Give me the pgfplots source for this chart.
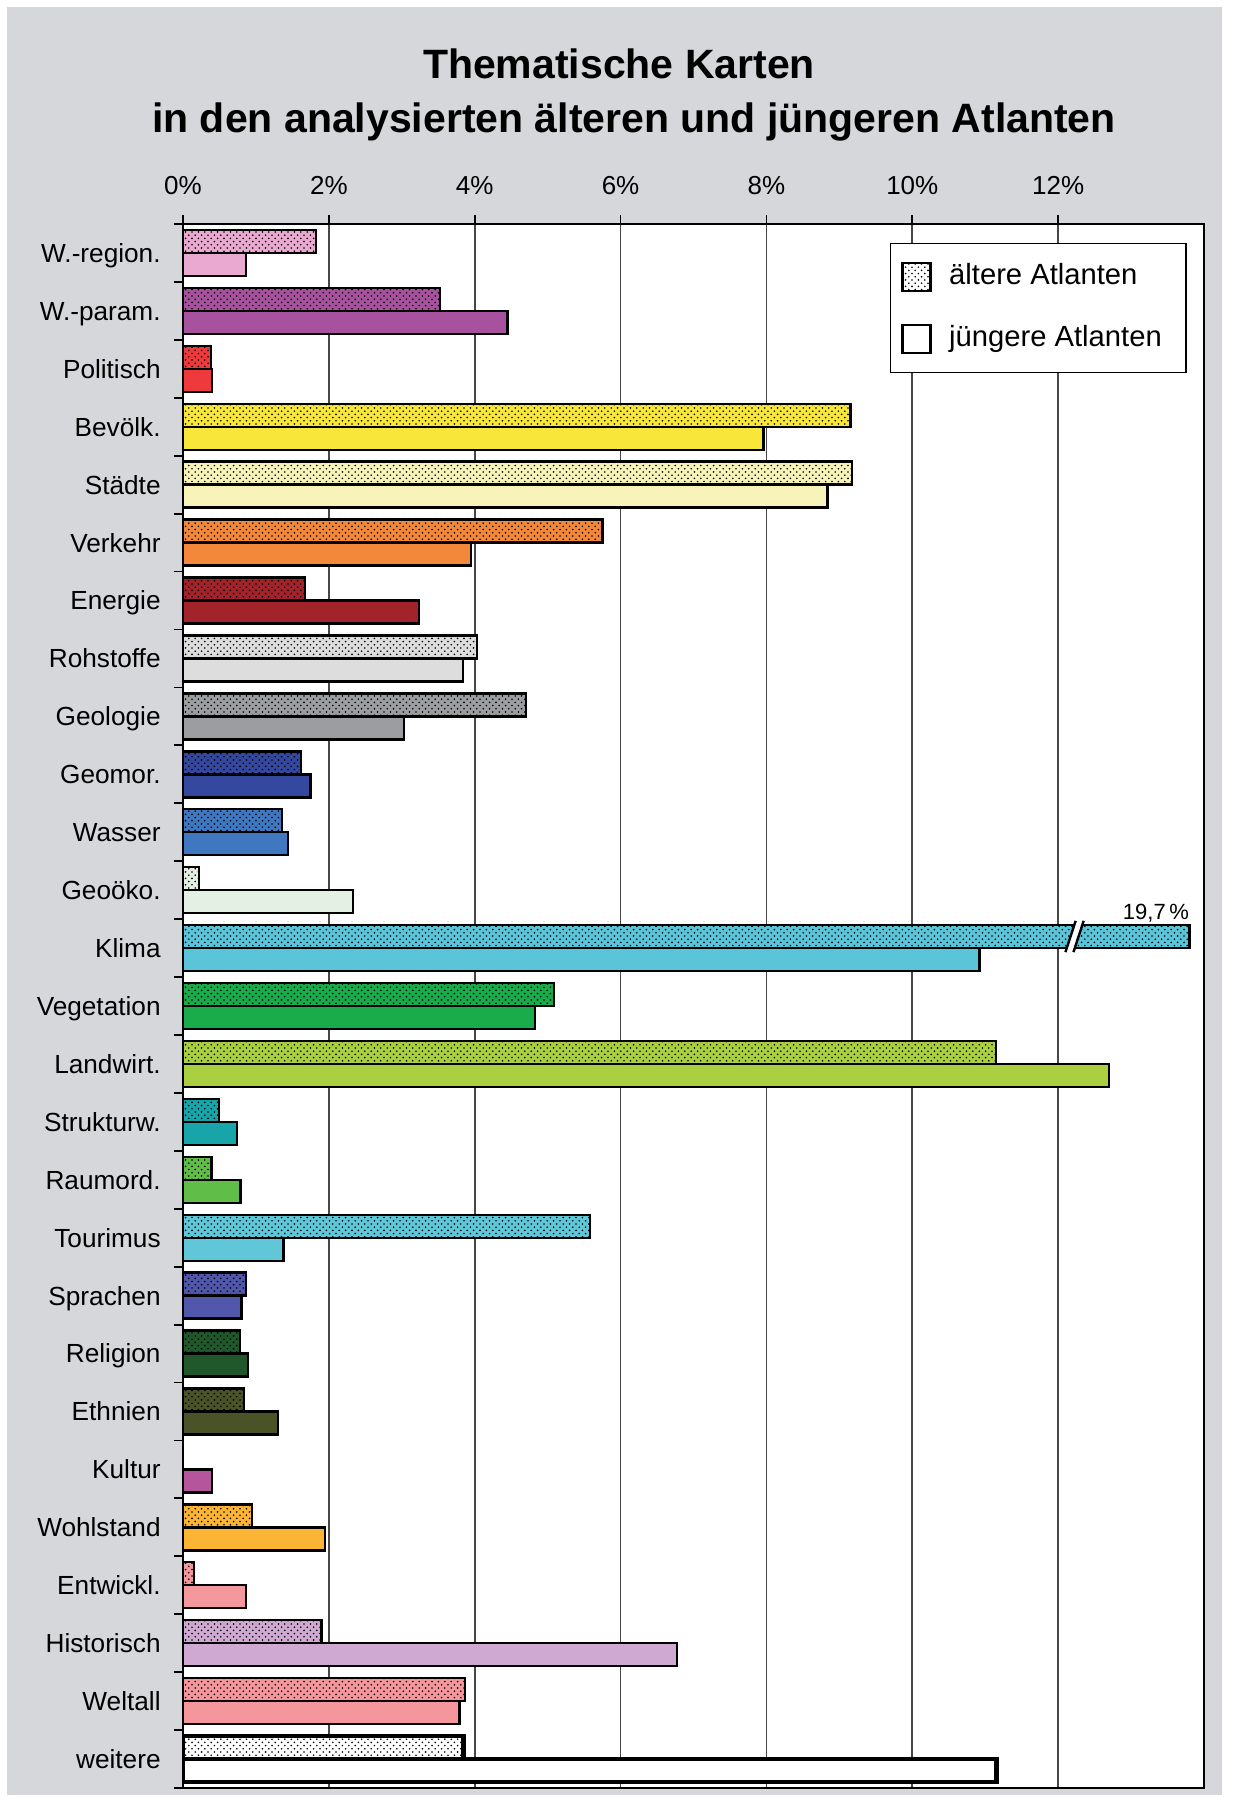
\documentclass[border=0pt]{standalone}
\usepackage{pgfplots}
\pgfplotsset{compat=1.18}
\usepackage{fontspec}
\setmainfont{Liberation Sans}
\usetikzlibrary{patterns}

% fine dot raster for the older atlases
\pgfdeclarepatternformonly{fdots}{\pgfqpoint{-1pt}{-1pt}}{\pgfqpoint{4pt}{4pt}}{\pgfqpoint{3.2pt}{3.2pt}}{%
  \pgfpathcircle{\pgfqpoint{0pt}{0pt}}{.45pt}
  \pgfpathcircle{\pgfqpoint{1.6pt}{1.6pt}}{.45pt}
  \pgfusepath{fill}}

\definecolor{bg}{HTML}{D5D7DA}
\definecolor{cWreg}{HTML}{E9A9D0}
\definecolor{cWpar}{HTML}{A8519F}
\definecolor{cPol}{HTML}{EE3A3C}
\definecolor{cBev}{HTML}{F8E73A}
\definecolor{cSta}{HTML}{F8F4B9}
\definecolor{cVer}{HTML}{F4883A}
\definecolor{cEne}{HTML}{A2232A}
\definecolor{cRoh}{HTML}{DDDDDE}
\definecolor{cGeol}{HTML}{9B9DA0}
\definecolor{cGeom}{HTML}{34489F}
\definecolor{cWas}{HTML}{3F78C1}
\definecolor{cGeoo}{HTML}{E4F0E4}
\definecolor{cKli}{HTML}{5AC5D9}
\definecolor{cVeg}{HTML}{1AAB4A}
\definecolor{cLan}{HTML}{AACF40}
\definecolor{cStr}{HTML}{17A5AA}
\definecolor{cRau}{HTML}{60BE48}
\definecolor{cTou}{HTML}{5FC7D8}
\definecolor{cSpr}{HTML}{5157AB}
\definecolor{cRel}{HTML}{20572B}
\definecolor{cEth}{HTML}{4A5227}
\definecolor{cKul}{HTML}{B5559B}
\definecolor{cWoh}{HTML}{FBB433}
\definecolor{cEnt}{HTML}{F4989E}
\definecolor{cHis}{HTML}{CFA9D1}
\definecolor{cWel}{HTML}{F4969C}

\begin{document}
\begin{tikzpicture}
\path[use as bounding box] (0pt,0pt) rectangle (618pt,-900pt);
\fill[white] (0pt,0pt) rectangle (618pt,-900pt);
\fill[bg] (3.5pt,-3.5pt) rectangle (611pt,-897.5pt);

\node[font=\bfseries\fontsize{20.5}{24}\selectfont, anchor=base] at (309.5pt,-39pt) {Thematische Karten};
\node[font=\bfseries\fontsize{20.5}{24}\selectfont, anchor=base] at (317pt,-66pt) {in den analysierten älteren und jüngeren Atlanten};

\pgfplotsset{
  older/.style={xbar, bar width=11.5pt, bar shift=5.75pt, draw=black, line width=1.2pt,
    postaction={pattern=fdots, pattern color=black}, forget plot},
  younger/.style={xbar, bar width=11.5pt, bar shift=-5.75pt, draw=black, line width=1.2pt, forget plot},
}
\begin{axis}[
  at={(91.5pt,-112pt)}, anchor=north west,
  width=510.5pt, height=782pt, scale only axis,
  xmin=0, xmax=14, ymin=-0.5, ymax=26.5,
  axis background/.style={fill=white},
  axis line style={line width=1.4pt},
  xtick={0,2,...,12},
  xticklabels={0\%,2\%,4\%,6\%,8\%,10\%,12\%},
  xtick pos=right, xticklabel pos=right,
  xmajorgrids, grid style={draw=black!72, line width=0.85pt},
  ytick={0,...,26},
  yticklabels={weitere,Weltall,Historisch,Entwickl.,Wohlstand,Kultur,Ethnien,Religion,Sprachen,Tourimus,Raumord.,Strukturw.,Landwirt.,Vegetation,Klima,Geoöko.,Wasser,Geomor.,Geologie,Rohstoffe,Energie,Verkehr,Städte,Bevölk.,Politisch,W.-param.,W.-region.},
  ytick pos=left,
  minor ytick={-0.5,0.5,...,26.5},
  every major y tick/.style={draw=none},
  tick align=outside,
  major tick length=4.5pt, minor tick length=4.5pt,
  tick style={black, line width=0.9pt},
  xticklabel style={font=\fontsize{13}{15}\selectfont, inner sep=0pt, yshift=10pt},
  yticklabel style={font=\fontsize{13.1}{15}\selectfont, inner sep=0pt, xshift=-6.5pt,
    text height=9.4pt, text depth=0pt},
  legend style={at={(0.983,0.988)}, anchor=north east, draw=black, line width=0.8pt,
    fill=white, font=\fontsize{14.6}{16}\selectfont, row sep=16pt, inner xsep=0pt, inner ysep=9pt,
    nodes={inner xsep=0pt, inner ysep=0pt, text height=10.5pt, text depth=3pt}},
  legend cell align=left,
]
\addlegendimage{legend image code/.code={\path (-5.5pt,0pt) (23pt,0pt);
  \draw[line width=1.2pt, fill=white, postaction={pattern=fdots, pattern color=black}] (0pt,-7pt) rectangle (14pt,7pt);}}
\addlegendentry{ältere Atlanten}
\addlegendimage{legend image code/.code={\path (-5.5pt,0pt) (23pt,0pt);
  \draw[line width=1.2pt, fill=white] (0pt,-7pt) rectangle (14pt,7pt);}}
\addlegendentry{jüngere Atlanten\hspace*{12pt}}

% W.-region.
\addplot[older, fill=cWreg] coordinates {(1.82,26)};
\addplot[younger, fill=cWreg] coordinates {(0.86,26)};
% W.-param.
\addplot[older, fill=cWpar] coordinates {(3.52,25)};
\addplot[younger, fill=cWpar] coordinates {(4.45,25)};
% Politisch
\addplot[older, fill=cPol] coordinates {(0.38,24)};
\addplot[younger, fill=cPol] coordinates {(0.40,24)};
% Bevölk.
\addplot[older, fill=cBev] coordinates {(9.15,23)};
\addplot[younger, fill=cBev] coordinates {(7.96,23)};
% Städte
\addplot[older, fill=cSta] coordinates {(9.17,22)};
\addplot[younger, fill=cSta] coordinates {(8.84,22)};
% Verkehr
\addplot[older, fill=cVer] coordinates {(5.75,21)};
\addplot[younger, fill=cVer] coordinates {(3.95,21)};
% Energie
\addplot[older, fill=cEne] coordinates {(1.67,20)};
\addplot[younger, fill=cEne] coordinates {(3.24,20)};
% Rohstoffe
\addplot[older, fill=cRoh] coordinates {(4.03,19)};
\addplot[younger, fill=cRoh] coordinates {(3.84,19)};
% Geologie
\addplot[older, fill=cGeol] coordinates {(4.70,18)};
\addplot[younger, fill=cGeol] coordinates {(3.03,18)};
% Geomor.
\addplot[older, fill=cGeom] coordinates {(1.62,17)};
\addplot[younger, fill=cGeom] coordinates {(1.75,17)};
% Wasser
\addplot[older, fill=cWas] coordinates {(1.36,16)};
\addplot[younger, fill=cWas] coordinates {(1.44,16)};
% Geoöko.
\addplot[older, fill=cGeoo] coordinates {(0.22,15)};
\addplot[younger, fill=cGeoo] coordinates {(2.33,15)};
% Klima: older value is 19.7 %, drawn shortened with a break mark
\addplot[older, fill=cKli] coordinates {(13.8,14)};
\addplot[younger, fill=cKli] coordinates {(10.92,14)};
% Vegetation
\addplot[older, fill=cVeg] coordinates {(5.09,13)};
\addplot[younger, fill=cVeg] coordinates {(4.83,13)};
% Landwirt.
\addplot[older, fill=cLan] coordinates {(11.15,12)};
\addplot[younger, fill=cLan] coordinates {(12.70,12)};
% Strukturw.
\addplot[older, fill=cStr] coordinates {(0.49,11)};
\addplot[younger, fill=cStr] coordinates {(0.74,11)};
% Raumord.
\addplot[older, fill=cRau] coordinates {(0.39,10)};
\addplot[younger, fill=cRau] coordinates {(0.79,10)};
% Tourimus
\addplot[older, fill=cTou] coordinates {(5.58,9)};
\addplot[younger, fill=cTou] coordinates {(1.38,9)};
% Sprachen
\addplot[older, fill=cSpr] coordinates {(0.86,8)};
\addplot[younger, fill=cSpr] coordinates {(0.80,8)};
% Religion
\addplot[older, fill=cRel] coordinates {(0.78,7)};
\addplot[younger, fill=cRel] coordinates {(0.89,7)};
% Ethnien
\addplot[older, fill=cEth] coordinates {(0.84,6)};
\addplot[younger, fill=cEth] coordinates {(1.30,6)};
% Kultur (no older bar)
\addplot[younger, fill=cKul] coordinates {(0.40,5)};
% Wohlstand
\addplot[older, fill=cWoh] coordinates {(0.95,4)};
\addplot[younger, fill=cWoh] coordinates {(1.95,4)};
% Entwickl.
\addplot[older, fill=cEnt] coordinates {(0.15,3)};
\addplot[younger, fill=cEnt] coordinates {(0.86,3)};
% Historisch
\addplot[older, fill=cHis] coordinates {(1.90,2)};
\addplot[younger, fill=cHis] coordinates {(6.77,2)};
% Weltall
\addplot[older, fill=cWel] coordinates {(3.87,1)};
\addplot[younger, fill=cWel] coordinates {(3.79,1)};
% weitere
\addplot[older, fill=white, line width=2.4pt] coordinates {(3.85,0)};
\addplot[younger, fill=white, line width=2.4pt] coordinates {(11.15,0)};

% break mark on the Klima bar
\fill[white] (axis cs:12.10,13.93) -- (axis cs:12.21,13.93) -- (axis cs:12.35,14.47) -- (axis cs:12.24,14.47) -- cycle;
\draw[black, line width=1.2pt] (axis cs:12.10,13.93) -- (axis cs:12.24,14.47);
\draw[black, line width=1.2pt] (axis cs:12.21,13.93) -- (axis cs:12.35,14.47);
\node[anchor=south east, inner sep=0pt, font=\fontsize{11}{13}\selectfont] at (axis cs:13.8,14.43) {19,7\,\%};
\end{axis}
\end{tikzpicture}
\end{document}
